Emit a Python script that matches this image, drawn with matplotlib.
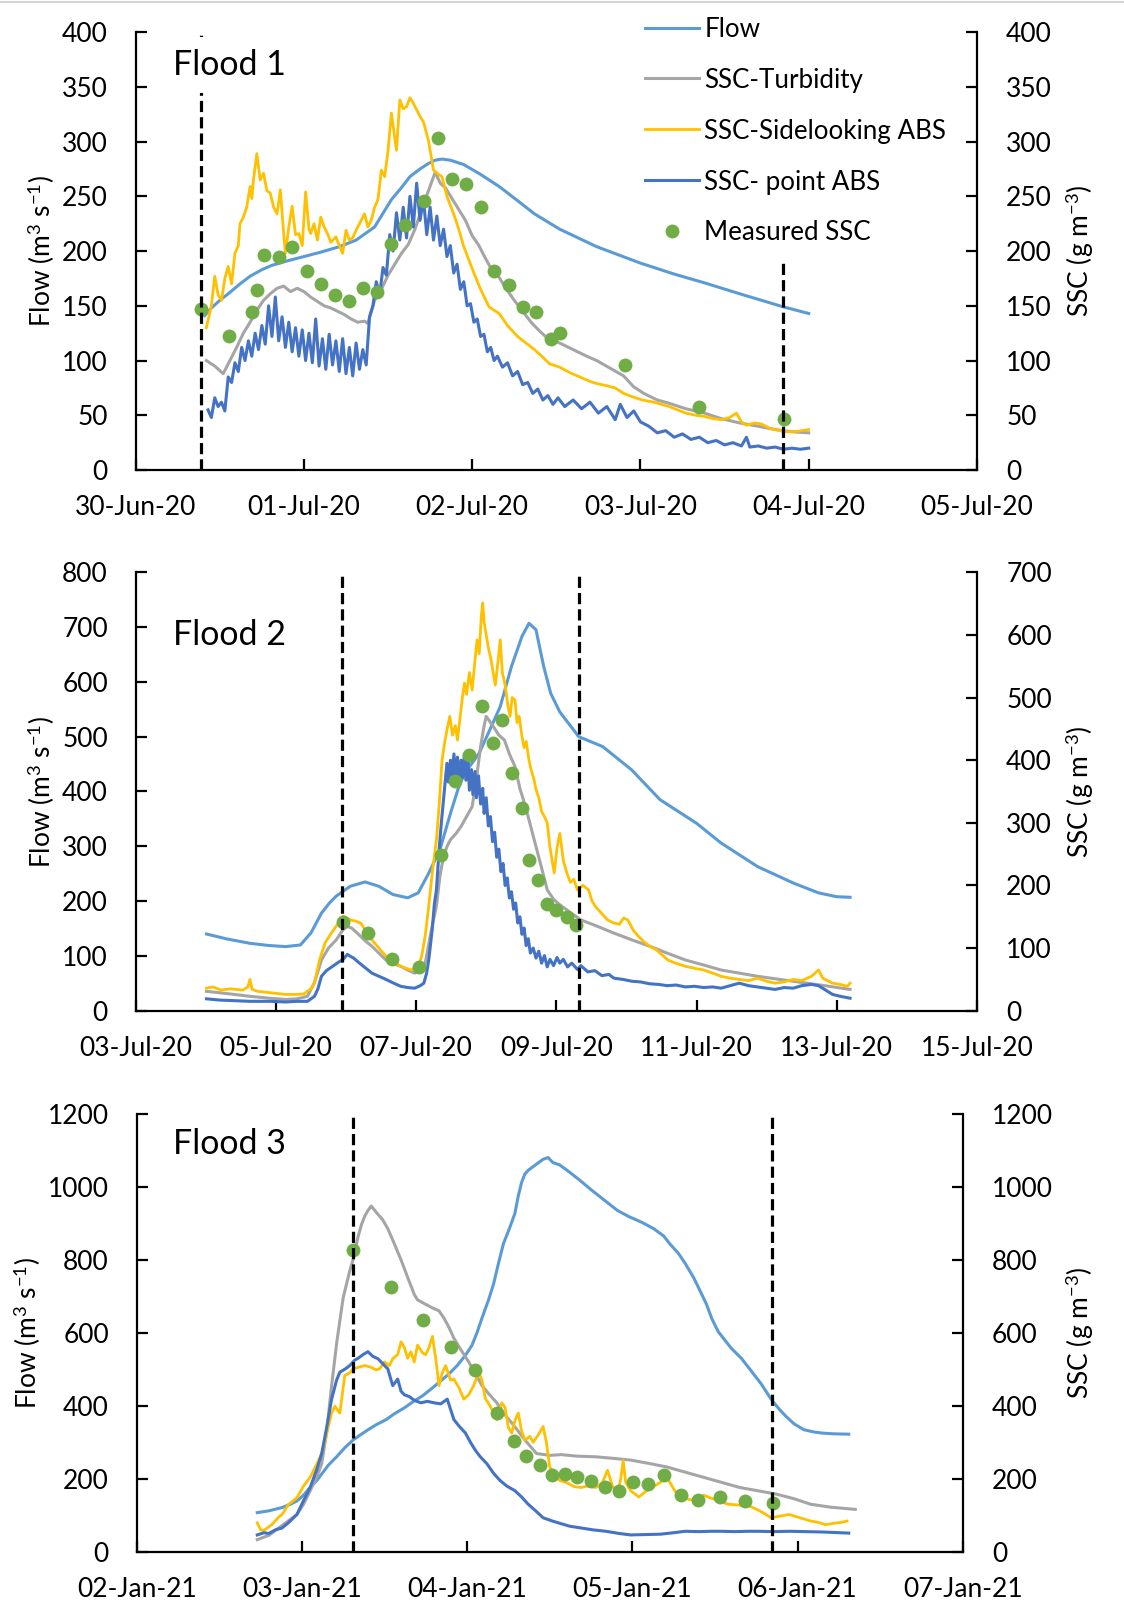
import datetime as dt
import numpy as np
import matplotlib
matplotlib.use("Agg")
import matplotlib.pyplot as plt
import matplotlib.dates as mdates
from matplotlib.lines import Line2D

plt.rcParams['font.family'] = ['Lato', 'DejaVu Sans']
plt.rcParams['mathtext.fontset'] = 'custom'
plt.rcParams['mathtext.rm'] = 'Lato'
plt.rcParams['mathtext.it'] = 'Lato:italic'
plt.rcParams['mathtext.bf'] = 'Lato:bold'

C_FLOW = '#5B9BD5'
C_TURB = '#A5A5A5'
C_SIDE = '#FFC000'
C_POINT = '#4472C4'
C_MEAS = '#70AD47'

# ---------------- Flood 1 (days after 30-Jun-20) ----------------
p1_flow = [(0.41, 141), (0.45, 148), (0.50, 155), (0.55, 161), (0.62, 170), (0.68, 177), (0.75, 183),
           (0.81, 187), (0.90, 191), (1.00, 195), (1.10, 199), (1.21, 204), (1.31, 210), (1.42, 222),
           (1.52, 247), (1.58, 258), (1.63, 268), (1.69, 275), (1.74, 280), (1.78, 283), (1.82, 284),
           (1.87, 283), (1.95, 279), (2.05, 270), (2.16, 259), (2.27, 246), (2.37, 234), (2.52, 220),
           (2.74, 204), (3.00, 189), (3.20, 179), (3.38, 171), (3.59, 161), (3.85, 149), (4.00, 143)]
p1_turb = [(0.42, 100), (0.47, 95), (0.52, 88), (0.56, 100), (0.60, 112), (0.64, 125), (0.68, 135),
           (0.72, 146), (0.76, 155), (0.80, 161), (0.84, 166), (0.88, 168), (0.92, 163), (0.96, 166),
           (1.00, 163), (1.04, 158), (1.08, 154), (1.12, 150), (1.16, 148), (1.20, 145), (1.24, 142),
           (1.28, 138), (1.32, 135), (1.36, 136), (1.38, 134), (1.42, 155), (1.46, 165), (1.50, 178),
           (1.54, 188), (1.58, 198), (1.62, 206), (1.66, 220), (1.70, 238), (1.74, 255), (1.78, 272),
           (1.81, 262), (1.84, 258), (1.88, 248), (1.92, 238), (1.96, 228), (2.00, 214), (2.04, 205),
           (2.08, 193), (2.12, 182), (2.16, 176), (2.20, 166), (2.25, 155), (2.30, 145), (2.35, 135),
           (2.40, 127), (2.45, 120), (2.52, 116), (2.60, 110), (2.68, 104), (2.74, 100), (2.82, 93),
           (2.90, 86), (2.96, 76), (3.02, 70), (3.10, 64), (3.17, 61), (3.27, 56), (3.38, 52),
           (3.48, 47), (3.59, 43), (3.70, 40), (3.80, 37), (3.90, 35), (4.00, 34)]
p1_side = [(0.42, 130), (0.45, 150), (0.47, 177), (0.49, 160), (0.51, 155), (0.53, 175), (0.55, 186),
           (0.57, 170), (0.59, 198), (0.61, 205), (0.62, 225), (0.64, 231), (0.66, 240), (0.68, 259),
           (0.69, 248), (0.70, 265), (0.72, 289), (0.74, 265), (0.76, 271), (0.78, 255), (0.80, 253),
           (0.82, 240), (0.84, 234), (0.86, 256), (0.88, 215), (0.89, 198), (0.91, 222), (0.93, 241),
           (0.95, 215), (0.97, 216), (0.99, 205), (1.01, 254), (1.03, 220), (1.04, 216), (1.06, 225),
           (1.08, 210), (1.10, 231), (1.12, 222), (1.14, 216), (1.16, 208), (1.19, 213), (1.21, 205),
           (1.23, 198), (1.25, 219), (1.27, 210), (1.29, 212), (1.31, 219), (1.33, 225), (1.36, 234),
           (1.38, 222), (1.40, 228), (1.42, 240), (1.44, 247), (1.46, 274), (1.48, 268), (1.50, 292),
           (1.52, 326), (1.55, 292), (1.57, 338), (1.59, 330), (1.61, 332), (1.63, 340), (1.65, 335),
           (1.67, 329), (1.69, 323), (1.71, 318), (1.74, 301), (1.77, 274), (1.80, 270), (1.82, 268),
           (1.85, 250), (1.89, 234), (1.92, 220), (1.95, 204), (1.98, 192), (2.01, 180), (2.05, 165),
           (2.10, 149), (2.16, 143), (2.21, 132), (2.27, 122), (2.32, 116), (2.37, 110), (2.42, 103),
           (2.46, 97), (2.52, 94), (2.58, 89), (2.64, 85), (2.70, 81), (2.74, 79), (2.80, 77),
           (2.85, 75), (2.90, 70), (2.95, 67), (3.01, 64), (3.08, 62), (3.17, 58), (3.22, 55),
           (3.27, 52), (3.33, 50), (3.38, 49), (3.43, 47), (3.48, 46), (3.53, 48), (3.57, 52),
           (3.60, 44), (3.63, 41), (3.68, 43), (3.72, 42), (3.77, 38), (3.80, 37), (3.86, 35),
           (3.91, 35), (3.96, 36), (4.00, 37)]
p1_point = [(0.43, 55), (0.45, 48), (0.47, 66), (0.49, 58), (0.51, 62), (0.53, 54), (0.55, 85),
            (0.57, 80), (0.59, 98), (0.61, 90), (0.63, 112), (0.65, 100), (0.67, 118), (0.69, 104),
            (0.71, 125), (0.73, 110), (0.75, 132), (0.77, 115), (0.79, 150), (0.81, 122), (0.83, 158),
            (0.85, 118), (0.87, 140), (0.89, 112), (0.91, 135), (0.93, 108), (0.95, 130), (0.97, 104),
            (0.99, 128), (1.01, 100), (1.03, 125), (1.05, 98), (1.07, 138), (1.09, 95), (1.11, 120),
            (1.13, 92), (1.15, 124), (1.17, 96), (1.19, 118), (1.21, 90), (1.23, 120), (1.25, 88),
            (1.27, 112), (1.29, 86), (1.31, 116), (1.33, 92), (1.35, 110), (1.37, 96), (1.39, 140),
            (1.41, 150), (1.43, 172), (1.45, 160), (1.47, 185), (1.49, 178), (1.51, 215), (1.53, 200),
            (1.55, 235), (1.57, 210), (1.59, 240), (1.61, 212), (1.63, 250), (1.65, 222), (1.67, 262),
            (1.69, 228), (1.71, 248), (1.73, 215), (1.75, 240), (1.77, 210), (1.79, 232), (1.81, 205),
            (1.83, 220), (1.85, 195), (1.87, 205), (1.89, 180), (1.91, 188), (1.93, 165), (1.95, 172),
            (1.97, 150), (1.99, 152), (2.01, 135), (2.03, 138), (2.05, 122), (2.07, 124), (2.09, 108),
            (2.11, 112), (2.13, 100), (2.15, 104), (2.18, 94), (2.21, 98), (2.24, 86), (2.27, 90),
            (2.30, 78), (2.33, 80), (2.36, 70), (2.39, 74), (2.42, 64), (2.45, 68), (2.48, 60),
            (2.51, 66), (2.55, 58), (2.60, 64), (2.65, 56), (2.70, 62), (2.75, 52), (2.80, 58),
            (2.85, 46), (2.88, 60), (2.92, 48), (2.96, 54), (3.00, 44), (3.05, 40), (3.10, 34),
            (3.15, 36), (3.20, 30), (3.25, 33), (3.30, 28), (3.35, 30), (3.40, 25), (3.45, 27),
            (3.50, 23), (3.55, 25), (3.60, 22), (3.63, 30), (3.65, 21), (3.70, 22), (3.75, 20),
            (3.80, 21), (3.85, 19), (3.90, 20), (3.95, 19), (4.00, 20)]
p1_meas = [(0.388, 147), (0.553, 122), (0.693, 144), (0.72, 164), (0.765, 196), (0.852, 195),
           (0.932, 204), (1.017, 182), (1.10, 170), (1.182, 160), (1.267, 154), (1.352, 166),
           (1.434, 163), (1.519, 206), (1.602, 224), (1.714, 246), (1.799, 303), (1.881, 266),
           (1.964, 261), (2.051, 240), (2.131, 182), (2.216, 169), (2.30, 149), (2.379, 144),
           (2.468, 120), (2.52, 125), (2.911, 96), (3.35, 58), (3.856, 47)]
p1_cuts = [0.39, 3.85]

# ---------------- Flood 2 (days after 03-Jul-20) ----------------
p2_flow = [(1.01, 140), (1.30, 131), (1.63, 123), (1.90, 119), (2.14, 117), (2.35, 120), (2.50, 142),
           (2.65, 178), (2.76, 196), (2.86, 209), (3.06, 227), (3.27, 235), (3.47, 227), (3.67, 212),
           (3.88, 206), (4.03, 215), (4.18, 251), (4.34, 294), (4.49, 360), (4.60, 405), (4.69, 433),
           (4.80, 452), (4.90, 470), (5.05, 512), (5.20, 555), (5.36, 628), (5.51, 683), (5.61, 707),
           (5.71, 695), (5.82, 628), (5.92, 579), (6.05, 545), (6.20, 520), (6.32, 500), (6.66, 482),
           (7.07, 440), (7.48, 385), (8.00, 342), (8.35, 306), (8.87, 263), (9.38, 233), (9.74, 215),
           (10.00, 208), (10.19, 207)]
p2_turb = [(1.01, 31), (1.33, 27), (1.63, 23), (1.90, 20), (2.14, 18), (2.30, 19), (2.45, 23), (2.55, 45),
           (2.65, 81), (2.75, 100), (2.86, 113), (2.95, 128), (3.01, 135), (3.08, 132), (3.16, 124),
           (3.27, 112), (3.37, 103), (3.47, 92), (3.57, 81), (3.68, 75), (3.78, 71), (3.88, 65),
           (3.98, 60), (4.08, 68), (4.13, 76), (4.22, 130), (4.29, 167), (4.34, 215), (4.39, 246),
           (4.44, 262), (4.49, 273), (4.57, 283), (4.64, 294), (4.72, 310), (4.80, 326), (4.86, 370),
           (4.92, 422), (4.97, 455), (5.00, 470), (5.05, 462), (5.10, 454), (5.18, 440), (5.26, 432),
           (5.33, 410), (5.41, 390), (5.48, 355), (5.56, 326), (5.64, 292), (5.71, 262), (5.79, 228),
           (5.87, 193), (5.96, 178), (6.05, 169), (6.20, 157), (6.35, 145), (6.58, 135), (6.82, 124),
           (7.08, 113), (7.33, 103), (7.58, 92), (7.84, 81), (8.10, 73), (8.35, 65), (8.61, 60),
           (8.87, 55), (9.12, 51), (9.38, 47), (9.64, 43), (9.89, 39), (10.19, 34)]
p2_side = [(1.01, 36), (1.10, 38), (1.22, 33), (1.35, 35), (1.53, 33), (1.60, 38), (1.63, 50), (1.66, 34),
           (1.74, 31), (1.90, 29), (2.05, 27), (2.14, 26), (2.30, 26), (2.40, 27), (2.50, 35), (2.55, 44),
           (2.62, 80), (2.70, 108), (2.78, 122), (2.86, 135), (2.92, 145), (2.96, 151), (3.02, 148),
           (3.06, 145), (3.14, 143), (3.21, 140), (3.29, 126), (3.37, 113), (3.47, 100), (3.57, 87),
           (3.66, 79), (3.78, 71), (3.85, 68), (3.93, 65), (4.00, 70), (4.05, 78), (4.08, 87),
           (4.13, 120), (4.18, 167), (4.23, 220), (4.29, 273), (4.33, 330), (4.37, 400), (4.41, 430),
           (4.44, 448), (4.48, 470), (4.52, 440), (4.56, 455), (4.59, 432), (4.63, 470), (4.66, 500),
           (4.69, 523), (4.72, 505), (4.76, 540), (4.80, 512), (4.84, 560), (4.87, 592), (4.90, 570),
           (4.93, 630), (4.95, 651), (4.97, 620), (5.00, 600), (5.03, 580), (5.07, 560), (5.10, 539),
           (5.13, 520), (5.17, 560), (5.20, 592), (5.23, 540), (5.27, 520), (5.31, 486), (5.34, 470),
           (5.37, 500), (5.41, 496), (5.44, 460), (5.47, 470), (5.51, 438), (5.54, 420), (5.57, 430),
           (5.61, 400), (5.64, 385), (5.68, 370), (5.71, 353), (5.75, 340), (5.79, 318), (5.83, 310),
           (5.87, 300), (5.91, 260), (5.94, 240), (5.97, 220), (6.01, 260), (6.05, 283), (6.10, 240),
           (6.15, 220), (6.20, 205), (6.25, 210), (6.30, 193), (6.38, 200), (6.46, 193), (6.51, 175),
           (6.56, 166), (6.65, 155), (6.73, 145), (6.82, 140), (6.90, 138), (6.96, 148), (7.02, 145),
           (7.10, 128), (7.17, 119), (7.25, 110), (7.33, 103), (7.43, 97), (7.52, 88), (7.59, 81),
           (7.70, 76), (7.84, 71), (7.96, 68), (8.10, 65), (8.23, 60), (8.35, 55), (8.48, 52),
           (8.61, 50), (8.74, 48), (8.87, 52), (9.00, 47), (9.12, 44), (9.25, 46), (9.38, 50),
           (9.50, 48), (9.64, 55), (9.74, 65), (9.80, 52), (9.94, 44), (10.05, 42), (10.15, 39),
           (10.19, 44)]
p2_point = [(1.01, 19), (1.20, 17), (1.40, 16), (1.63, 15), (1.90, 15), (2.14, 14), (2.30, 15), (2.45, 15),
            (2.55, 23), (2.60, 35), (2.65, 55), (2.72, 64), (2.81, 71), (2.90, 78), (2.96, 82), (3.02, 90),
            (3.06, 87), (3.11, 84), (3.16, 79), (3.26, 70), (3.37, 60), (3.47, 55), (3.57, 50), (3.68, 44),
            (3.78, 39), (3.88, 37), (3.98, 36), (4.06, 40), (4.11, 44), (4.15, 60), (4.18, 81),
            (4.23, 130), (4.26, 170), (4.29, 193), (4.33, 260), (4.36, 300), (4.39, 337), (4.41, 360),
            (4.44, 395), (4.46, 365), (4.49, 400), (4.51, 375), (4.54, 410), (4.56, 370), (4.59, 405),
            (4.61, 365), (4.64, 400), (4.66, 372), (4.69, 410), (4.71, 368), (4.74, 398), (4.76, 352),
            (4.79, 385), (4.81, 345), (4.84, 382), (4.86, 340), (4.89, 375), (4.92, 330), (4.95, 355),
            (4.97, 315), (5.00, 340), (5.03, 295), (5.06, 310), (5.09, 270), (5.12, 285), (5.15, 245),
            (5.18, 258), (5.21, 222), (5.24, 235), (5.27, 200), (5.30, 212), (5.33, 180), (5.36, 190),
            (5.39, 162), (5.42, 172), (5.45, 140), (5.48, 150), (5.51, 122), (5.54, 132), (5.57, 104),
            (5.60, 115), (5.63, 92), (5.67, 100), (5.71, 84), (5.75, 95), (5.79, 76), (5.83, 88),
            (5.87, 70), (5.91, 82), (5.96, 72), (6.01, 85), (6.05, 76), (6.10, 82), (6.16, 70),
            (6.22, 76), (6.30, 66), (6.35, 72), (6.45, 62), (6.55, 64), (6.65, 56), (6.75, 58),
            (6.82, 52), (6.95, 50), (7.08, 47), (7.20, 46), (7.33, 43), (7.46, 42), (7.58, 40),
            (7.71, 41), (7.84, 38), (7.97, 39), (8.10, 37), (8.23, 38), (8.35, 36), (8.48, 40),
            (8.61, 44), (8.74, 40), (8.87, 38), (9.00, 36), (9.12, 34), (9.25, 37), (9.38, 36),
            (9.50, 40), (9.64, 42), (9.74, 40), (9.84, 33), (9.94, 26), (10.05, 23), (10.19, 20)]
p2_meas = [(2.96, 142), (3.32, 124), (3.66, 82), (4.04, 70), (4.35, 249), (4.56, 366), (4.76, 408),
           (4.94, 487), (5.09, 428), (5.23, 464), (5.37, 380), (5.51, 323), (5.61, 241), (5.74, 209),
           (5.87, 170), (6.00, 161), (6.15, 150), (6.28, 137)]
p2_cuts = [2.94, 6.32]

# ---------------- Flood 3 (days after 02-Jan-21) ----------------
p3_flow = [(0.73, 107), (0.80, 112), (0.88, 121), (0.93, 130), (0.97, 139), (1.01, 155), (1.05, 176),
           (1.09, 195), (1.12, 213), (1.16, 237), (1.21, 260), (1.26, 285), (1.31, 306), (1.36, 322),
           (1.40, 334), (1.45, 348), (1.51, 362), (1.56, 378), (1.62, 394), (1.67, 410), (1.73, 427),
           (1.78, 445), (1.83, 464), (1.89, 487), (1.94, 510), (1.99, 538), (2.03, 566), (2.06, 600),
           (2.09, 640), (2.13, 690), (2.16, 733), (2.19, 790), (2.22, 844), (2.26, 890), (2.29, 928),
           (2.31, 975), (2.33, 1012), (2.35, 1035), (2.37, 1045), (2.42, 1062), (2.46, 1075),
           (2.49, 1080), (2.52, 1066), (2.56, 1060), (2.62, 1040), (2.69, 1015), (2.75, 992),
           (2.82, 967), (2.91, 935), (2.98, 918), (3.06, 902), (3.13, 885), (3.19, 865), (3.23, 842),
           (3.28, 817), (3.32, 790), (3.37, 752), (3.41, 715), (3.45, 677), (3.48, 640), (3.52, 603),
           (3.56, 580), (3.60, 557), (3.66, 530), (3.71, 501), (3.78, 460), (3.84, 418), (3.89, 390),
           (3.93, 371), (3.98, 350), (4.04, 334), (4.10, 328), (4.15, 325), (4.22, 323), (4.31, 322)]
p3_turb = [(0.73, 33), (0.80, 45), (0.86, 65), (0.92, 85), (0.97, 102), (1.01, 130), (1.05, 167),
           (1.09, 205), (1.12, 241), (1.15, 330), (1.18, 455), (1.21, 570), (1.25, 696), (1.29, 770),
           (1.31, 800), (1.34, 863), (1.36, 895), (1.38, 919), (1.40, 935), (1.42, 947), (1.45, 930),
           (1.49, 909), (1.52, 885), (1.55, 854), (1.60, 800), (1.64, 752), (1.68, 705), (1.70, 690),
           (1.74, 680), (1.79, 668), (1.83, 660), (1.86, 640), (1.89, 615), (1.92, 585), (1.96, 555),
           (2.01, 520), (2.05, 488), (2.09, 455), (2.14, 428), (2.18, 408), (2.22, 380), (2.27, 353),
           (2.31, 330), (2.35, 306), (2.39, 285), (2.42, 269), (2.50, 264), (2.57, 266), (2.66, 262),
           (2.78, 260), (2.88, 256), (2.99, 251), (3.10, 242), (3.21, 232), (3.32, 218), (3.43, 204),
           (3.54, 190), (3.65, 176), (3.76, 167), (3.87, 158), (3.98, 145), (4.08, 130), (4.20, 122),
           (4.35, 116)]
p3_side = [(0.73, 79), (0.75, 60), (0.77, 58), (0.82, 75), (0.86, 95), (0.88, 102), (0.92, 130),
           (0.97, 148), (1.01, 180), (1.05, 204), (1.09, 240), (1.12, 269), (1.14, 300), (1.16, 343),
           (1.18, 380), (1.20, 399), (1.22, 385), (1.23, 380), (1.25, 450), (1.26, 483), (1.29, 490),
           (1.31, 501), (1.34, 505), (1.38, 510), (1.42, 505), (1.45, 498), (1.47, 501), (1.50, 520),
           (1.53, 510), (1.55, 529), (1.58, 540), (1.60, 575), (1.62, 560), (1.64, 530), (1.66, 548),
           (1.68, 520), (1.70, 566), (1.73, 545), (1.75, 540), (1.77, 560), (1.79, 590), (1.81, 530),
           (1.83, 455), (1.85, 490), (1.87, 510), (1.90, 470), (1.92, 473), (1.95, 450), (1.98, 418),
           (2.01, 430), (2.04, 455), (2.07, 492), (2.09, 470), (2.11, 420), (2.14, 399), (2.16, 380),
           (2.18, 362), (2.21, 408), (2.23, 395), (2.25, 340), (2.27, 325), (2.29, 360), (2.31, 380),
           (2.33, 330), (2.35, 306), (2.38, 316), (2.40, 300), (2.43, 320), (2.46, 343), (2.48, 300),
           (2.50, 232), (2.53, 215), (2.56, 195), (2.60, 190), (2.65, 178), (2.69, 176), (2.73, 180),
           (2.78, 176), (2.82, 190), (2.85, 223), (2.88, 180), (2.91, 158), (2.93, 200), (2.945, 250),
           (2.96, 190), (2.99, 167), (3.04, 150), (3.08, 165), (3.12, 176), (3.17, 190), (3.21, 204),
           (3.24, 180), (3.28, 150), (3.33, 145), (3.39, 139), (3.43, 155), (3.47, 148), (3.52, 140),
           (3.58, 130), (3.64, 128), (3.71, 125), (3.78, 110), (3.84, 93), (3.90, 98), (3.95, 102),
           (4.00, 95), (4.08, 84), (4.13, 80), (4.17, 74), (4.22, 78), (4.26, 80), (4.30, 84)]
p3_point = [(0.73, 46), (0.77, 52), (0.80, 50), (0.84, 60), (0.88, 65), (0.92, 80), (0.97, 102),
            (1.01, 140), (1.05, 176), (1.09, 225), (1.12, 269), (1.15, 340), (1.18, 418), (1.21, 470),
            (1.23, 492), (1.26, 500), (1.29, 510), (1.32, 525), (1.34, 530), (1.37, 540), (1.40, 548),
            (1.43, 535), (1.46, 529), (1.49, 515), (1.52, 501), (1.54, 470), (1.55, 455), (1.58, 473),
            (1.60, 440), (1.62, 430), (1.65, 425), (1.68, 415), (1.72, 408), (1.76, 412), (1.80, 408),
            (1.84, 405), (1.88, 418), (1.90, 390), (1.92, 362), (1.95, 345), (1.99, 325), (2.02, 300),
            (2.05, 278), (2.08, 260), (2.12, 241), (2.16, 215), (2.20, 195), (2.24, 180), (2.29, 167),
            (2.33, 150), (2.37, 130), (2.42, 110), (2.46, 93), (2.51, 85), (2.56, 78), (2.62, 70),
            (2.69, 65), (2.76, 60), (2.84, 56), (2.92, 50), (2.99, 46), (3.08, 47), (3.17, 48),
            (3.25, 52), (3.32, 56), (3.40, 55), (3.48, 56), (3.54, 56), (3.62, 55), (3.70, 56),
            (3.76, 56), (3.85, 55), (3.95, 56), (4.05, 55), (4.15, 54), (4.31, 51)]
p3_meas = [(1.31, 826), (1.537, 724), (1.732, 636), (1.903, 561), (2.05, 499), (2.18, 379), (2.281, 302),
           (2.359, 262), (2.444, 237), (2.515, 209), (2.59, 213), (2.666, 204), (2.749, 195), (2.834, 176),
           (2.917, 165), (3.004, 190), (3.098, 186), (3.19, 209), (3.294, 156), (3.40, 141), (3.532, 149),
           (3.68, 139), (3.85, 133)]
p3_cuts = [1.307, 3.847]

panels = [
    dict(base=dt.datetime(2020, 6, 30), ndays=5, step=1, lmax=400, lstep=50, rmax=400, rstep=50,
         flow=p1_flow, turb=p1_turb, side=p1_side, point=p1_point, meas=p1_meas, cuts=p1_cuts,
         cut_top=[1.0, 0.475],
         title='Flood 1', ty=0.925, rect=[0.1207, 0.7084, 0.7485, 0.2717], lx=-0.093, rx=1.103),
    dict(base=dt.datetime(2020, 7, 3), ndays=12, step=2, lmax=800, lstep=100, rmax=700, rstep=100,
         flow=p2_flow, turb=p2_turb, side=p2_side, point=p2_point, meas=p2_meas, cuts=p2_cuts,
         cut_top=[1.0, 1.0],
         title='Flood 2', ty=0.858, rect=[0.1207, 0.3730, 0.7485, 0.2720], lx=-0.093, rx=1.103),
    dict(base=dt.datetime(2021, 1, 2), ndays=5, step=1, lmax=1200, lstep=200, rmax=1200, rstep=200,
         flow=p3_flow, turb=p3_turb, side=p3_side, point=p3_point, meas=p3_meas, cuts=p3_cuts,
         cut_top=[1.0, 1.0],
         title='Flood 3', ty=0.932, rect=[0.1216, 0.0374, 0.7349, 0.2717], lx=-0.113, rx=1.1226),
]

fig = plt.figure(figsize=(11.24, 16.12), dpi=100)
fig.add_artist(Line2D([0, 1], [0.9985, 0.9985], color='#cccccc', lw=1.2))

FS = 19

for i, p in enumerate(panels):
    ax = fig.add_axes(p['rect'])
    ax2 = ax.twinx()
    d0 = mdates.date2num(p['base'])

    t, v = np.array(p['flow']).T
    ax.plot(d0 + t, v, color=C_FLOW, lw=2.2, label='Flow')
    t, v = np.array(p['turb']).T
    ax2.plot(d0 + t, v, color=C_TURB, lw=2.2, label='SSC-Turbidity')
    t, v = np.array(p['side']).T
    ax2.plot(d0 + t, v, color=C_SIDE, lw=2.0, label='SSC-Sidelooking ABS')
    t, v = np.array(p['point']).T
    ax2.plot(d0 + t, v, color=C_POINT, lw=2.2, label='SSC- point ABS')
    t, v = np.array(p['meas']).T
    ax2.plot(d0 + t, v, 'o', color=C_MEAS, ms=10, mec='none', label='Measured SSC', zorder=4)

    for c, top in zip(p['cuts'], p['cut_top']):
        ax2.axvline(d0 + c, ymax=top, color='black', lw=2.3, dashes=(3.5, 1.6), zorder=5)

    ax.set_xlim(d0, d0 + p['ndays'])
    ax.set_xticks(d0 + np.arange(0, p['ndays'] + 1, p['step']))
    ax.xaxis.set_major_formatter(mdates.DateFormatter('%d-%b-%y'))
    ax.set_ylim(0, p['lmax'])
    ax.set_yticks(np.arange(0, p['lmax'] + 1, p['lstep']))
    ax2.set_ylim(0, p['rmax'])
    ax2.set_yticks(np.arange(0, p['rmax'] + 1, p['rstep']))

    for a in (ax, ax2):
        a.spines['top'].set_visible(False)
        for s in a.spines.values():
            s.set_linewidth(1.6)
    ax2.spines['left'].set_visible(False)
    ax2.spines['bottom'].set_visible(False)
    ax.spines['right'].set_visible(False)

    ax.tick_params(axis='y', direction='in', length=8, width=1.6, labelsize=FS, pad=20)
    ax.tick_params(axis='x', direction='in', length=8, width=1.6, labelsize=FS, pad=18)
    ax2.tick_params(axis='y', direction='in', length=8, width=1.6, labelsize=FS, pad=21)

    ax.set_ylabel(r'Flow (m$^{3}$ s$^{-1}$)', fontsize=19)
    ax.yaxis.set_label_coords(p['lx'], 0.5)
    ax2.set_ylabel(r'SSC (g m$^{-3}$)', fontsize=19, rotation=90)
    ax2.yaxis.set_label_coords(p['rx'], 0.5)

    ax2.text(0.044, p['ty'], p['title'], transform=ax2.transAxes, fontsize=24.5, va='center', ha='left',
             zorder=10, bbox=dict(boxstyle='square,pad=0.35', fc='white', ec='none'))

    if i == 0:
        h1, l1 = ax.get_legend_handles_labels()
        h2, l2 = ax2.get_legend_handles_labels()
        leg = ax2.legend(h1 + h2, l1 + l2, loc='upper left', bbox_to_anchor=(0.5905, 1.065),
                         fontsize=18.7, frameon=False, handlelength=2.08, handletextpad=0.18,
                         labelspacing=1.0, borderpad=0.5, borderaxespad=0, numpoints=1)
        leg.set_zorder(20)

fig.savefig('out.png', dpi=100)
